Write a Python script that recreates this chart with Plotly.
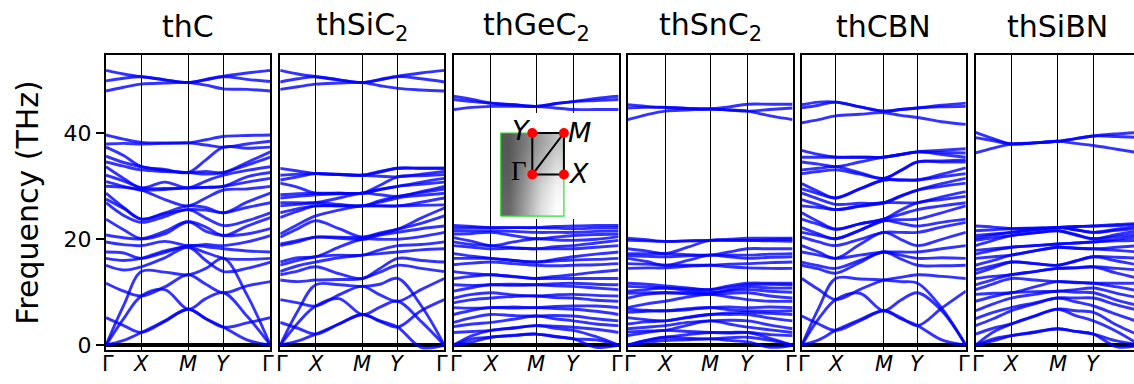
import plotly.graph_objects as go

W, H = 1134, 384

TITLES = ["thC", "thSiC<sub>2</sub>", "thGeC<sub>2</sub>", "thSnC<sub>2</sub>", "thCBN", "thSiBN"]
# fraction of the k-path at which X lies (Gamma-X length); M is at 0.5, Y at 0.5+a
GX_FRACTION = [0.215, 0.216, 0.226, 0.228, 0.206, 0.217]
KLABELS = ["Γ", "<i>X</i>", "<i>M</i>", "<i>Y</i>", "Γ"]
YTICKS = [0, 20, 40]

# band values at: Γ, Γ-X, X, X-M, M, M-Y, Y, Y-Γ, Γ   (THz)
THC = [
    [0, 0.9, 2.4, 4.6, 6.8, 5.0, 3.4, 1.0, 0],
    [0, 5.0, 9.3, 10.5, 6.8, 8.8, 9.9, 5.5, 0],
    [0, 7.5, 13.9, 13.8, 13.3, 14.5, 16.4, 9.5, 0],
    [5.2, 3.7, 2.4, 4.5, 6.8, 5.0, 3.4, 4.2, 5.2],
    [11.7, 10.2, 9.3, 11.0, 13.3, 11.5, 9.9, 11.2, 12.0],
    [15.1, 14.2, 14.8, 16.5, 18.5, 16.0, 13.9, 14.5, 15.7],
    [16.4, 16.0, 16.4, 17.8, 18.5, 17.5, 16.4, 16.2, 16.4],
    [17.6, 17.4, 16.4, 17.5, 18.8, 18.6, 18.2, 17.8, 17.6],
    [19.5, 19.0, 18.8, 19.6, 18.8, 19.0, 18.8, 19.5, 20.7],
    [20.8, 20.3, 20.1, 21.5, 23.3, 21.5, 20.7, 21.0, 22.0],
    [23.8, 21.8, 20.1, 21.0, 23.3, 22.3, 20.7, 22.5, 24.1],
    [26.9, 24.5, 23.2, 24.3, 25.6, 24.0, 22.6, 23.5, 25.0],
    [27.6, 25.8, 23.8, 24.8, 25.6, 25.5, 25.0, 26.0, 26.9],
    [28.7, 26.0, 23.8, 25.0, 26.3, 26.0, 25.0, 27.0, 28.7],
    [30.0, 29.8, 29.3, 27.5, 26.3, 27.8, 29.3, 29.5, 30.0],
    [30.9, 30.0, 29.3, 29.4, 29.7, 29.8, 30.0, 30.8, 31.5],
    [32.1, 31.0, 29.7, 29.6, 29.7, 29.8, 30.0, 31.8, 32.6],
    [33.7, 31.5, 29.7, 30.8, 29.7, 31.0, 32.1, 33.0, 33.7],
    [34.6, 33.8, 33.1, 32.8, 32.6, 32.3, 32.6, 34.0, 35.5],
    [35.7, 34.5, 33.7, 33.0, 32.6, 32.8, 32.6, 34.5, 36.5],
    [37.4, 35.8, 33.7, 33.2, 32.6, 35.0, 37.4, 37.2, 37.4],
    [38.0, 38.1, 38.0, 38.1, 38.2, 37.8, 37.4, 38.0, 38.5],
    [39.7, 38.9, 38.3, 38.2, 38.2, 38.8, 39.4, 39.6, 39.7],
    [48.0, 48.7, 49.3, 49.5, 49.6, 49.1, 48.4, 48.3, 48.0],
    [49.9, 50.4, 50.7, 50.1, 49.6, 50.1, 50.7, 50.2, 49.8],
    [51.9, 51.2, 50.7, 50.1, 49.6, 50.2, 50.8, 51.4, 51.9],
]

THSIC2 = [
    [0, 0.8, 2.1, 4.0, 5.8, 4.6, 3.4, -0.4, 0],
    [0, 4.2, 7.4, 8.8, 5.8, 7.2, 8.3, 4.5, 0],
    [0, 6.5, 11.4, 11.4, 11.1, 11.5, 12.6, 7.5, 0],
    [4.3, 3.2, 2.1, 4.0, 5.8, 4.5, 3.4, 6.5, 8.6],
    [8.6, 8.0, 7.4, 9.5, 11.1, 9.5, 8.3, 10.5, 12.6],
    [12.3, 12.0, 12.3, 12.4, 12.6, 13.8, 15.1, 14.5, 13.9],
    [13.3, 14.0, 14.8, 13.5, 12.6, 14.5, 16.4, 16.0, 15.7],
    [13.9, 15.0, 15.7, 16.5, 17.0, 17.3, 17.6, 18.0, 18.2],
    [15.1, 16.0, 16.7, 17.0, 17.0, 18.0, 18.8, 19.0, 19.5],
    [15.7, 16.5, 16.7, 18.5, 20.0, 20.0, 20.0, 20.5, 21.3],
    [18.8, 19.5, 20.4, 20.2, 20.0, 20.8, 21.3, 22.0, 22.5],
    [19.1, 19.8, 20.4, 20.4, 20.4, 21.2, 21.9, 23.0, 24.4],
    [20.4, 22.0, 23.5, 22.0, 20.4, 21.0, 21.9, 24.0, 25.9],
    [21.0, 22.8, 24.4, 25.5, 26.3, 26.3, 26.3, 26.4, 26.5],
    [24.1, 25.3, 26.3, 26.3, 26.3, 26.3, 26.3, 27.0, 27.8],
    [25.0, 25.8, 26.3, 26.3, 26.3, 27.0, 27.8, 28.3, 28.7],
    [26.3, 26.6, 26.9, 26.6, 26.3, 27.3, 28.1, 28.8, 29.5],
    [26.9, 26.9, 26.9, 27.8, 28.7, 28.4, 28.1, 29.0, 30.0],
    [27.8, 28.1, 28.4, 28.6, 28.7, 29.4, 30.0, 30.4, 30.8],
    [28.4, 28.6, 28.7, 28.7, 28.7, 29.4, 30.0, 30.8, 31.5],
    [30.6, 29.8, 28.7, 28.7, 28.7, 30.2, 31.8, 32.0, 32.2],
    [31.2, 31.8, 32.4, 32.2, 32.1, 31.9, 31.8, 32.3, 32.8],
    [32.1, 32.3, 32.4, 32.3, 32.1, 32.7, 33.4, 33.4, 33.4],
    [33.4, 32.9, 32.4, 32.2, 32.1, 32.8, 33.4, 33.4, 33.4],
    [48.3, 48.8, 49.3, 49.5, 49.6, 49.0, 48.5, 48.2, 48.0],
    [49.7, 50.3, 50.7, 50.1, 49.6, 50.1, 50.7, 50.3, 49.7],
    [51.9, 51.2, 50.7, 50.1, 49.6, 50.2, 50.8, 51.4, 51.9],
]

THGEC2 = [
    [0, 0.6, 1.5, 1.8, 2.1, 1.6, 1.2, -0.4, 0],
    [0, 1.2, 1.5, 1.9, 2.1, 1.7, 1.2, 1.0, 0],
    [0, 1.8, 2.8, 3.2, 3.7, 3.2, 2.8, 1.6, 0],
    [2.4, 2.6, 2.8, 3.3, 3.7, 3.6, 3.4, 3.0, 2.4],
    [3.5, 4.0, 4.3, 4.9, 5.5, 5.0, 4.6, 4.0, 3.7],
    [4.3, 5.2, 5.8, 5.6, 5.5, 5.6, 5.5, 5.0, 4.6],
    [5.8, 6.6, 7.1, 7.0, 7.1, 6.9, 6.8, 6.4, 5.8],
    [7.1, 7.0, 7.1, 7.2, 7.1, 7.3, 7.4, 7.4, 7.1],
    [8.0, 8.6, 8.9, 9.2, 9.3, 9.0, 8.9, 8.5, 8.3],
    [8.9, 9.6, 9.9, 9.5, 9.3, 9.5, 9.6, 9.4, 9.3],
    [10.2, 10.9, 11.4, 11.5, 11.4, 11.2, 11.1, 10.8, 10.5],
    [11.4, 11.3, 11.4, 11.3, 11.4, 11.6, 11.7, 11.5, 11.4],
    [12.6, 13.0, 13.3, 12.9, 12.6, 12.6, 12.6, 12.6, 12.6],
    [13.9, 13.5, 13.3, 13.0, 12.6, 13.0, 13.3, 13.8, 14.2],
    [15.2, 15.5, 15.7, 15.4, 15.1, 15.0, 15.1, 15.2, 15.4],
    [16.4, 16.4, 16.4, 16.0, 15.7, 15.9, 16.1, 16.2, 16.4],
    [17.3, 16.8, 16.4, 16.0, 15.7, 16.2, 16.7, 17.2, 17.6],
    [18.8, 18.5, 18.2, 18.3, 18.2, 18.2, 18.2, 18.5, 18.8],
    [19.5, 19.0, 18.8, 18.4, 18.2, 18.6, 18.8, 19.3, 19.8],
    [20.3, 19.6, 18.8, 19.5, 20.1, 19.9, 19.8, 20.0, 20.5],
    [21.0, 21.1, 21.3, 20.7, 20.1, 20.4, 20.7, 20.9, 21.0],
    [21.6, 21.6, 21.6, 21.5, 21.3, 21.3, 21.3, 21.5, 21.6],
    [22.1, 22.2, 22.2, 22.2, 22.2, 22.1, 22.0, 22.1, 22.2],
    [22.6, 22.4, 22.2, 22.2, 22.2, 22.4, 22.5, 22.6, 22.6],
    [44.5, 44.9, 45.1, 45.1, 45.1, 44.8, 44.5, 44.5, 44.5],
    [46.4, 46.0, 45.7, 45.4, 45.1, 45.6, 46.0, 46.2, 46.4],
    [47.0, 46.4, 45.7, 45.4, 45.1, 45.6, 46.0, 46.6, 47.0],
]

THSNC2 = [
    [0, 0.5, 0.9, 1.0, 1.2, 0.9, 0.6, -0.4, 0],
    [0, 0.9, 1.5, 1.3, 1.2, 1.4, 1.5, 0.9, 0],
    [0, 0.9, 1.5, 2.0, 2.4, 2.4, 2.4, 1.3, 0],
    [1.8, 2.4, 2.8, 2.6, 2.4, 2.3, 2.4, 2.0, 1.8],
    [2.5, 2.7, 2.8, 3.8, 4.6, 4.0, 3.4, 2.9, 2.4],
    [3.1, 3.4, 3.7, 4.3, 4.6, 4.7, 4.6, 3.8, 3.1],
    [4.0, 4.4, 4.6, 5.3, 5.8, 5.8, 5.8, 5.1, 4.6],
    [5.2, 4.8, 4.6, 5.2, 5.8, 6.1, 6.2, 6.0, 5.8],
    [6.2, 6.4, 6.5, 6.9, 7.1, 6.7, 6.5, 6.4, 6.5],
    [6.8, 6.6, 6.5, 6.7, 7.1, 7.2, 7.1, 7.2, 7.1],
    [7.1, 7.8, 8.3, 9.1, 9.6, 9.1, 8.6, 8.3, 8.3],
    [8.9, 9.6, 9.9, 9.7, 9.6, 9.8, 9.9, 9.3, 8.9],
    [9.8, 9.9, 9.9, 9.9, 9.9, 10.3, 10.5, 10.2, 10.0],
    [10.2, 10.5, 10.8, 10.3, 9.9, 10.4, 11.0, 10.8, 10.8],
    [11.1, 11.0, 10.8, 10.6, 10.5, 10.9, 11.4, 11.5, 11.4],
    [11.7, 11.5, 11.2, 10.8, 10.5, 11.2, 11.7, 11.7, 11.7],
    [14.5, 14.6, 14.6, 14.9, 15.1, 14.8, 14.6, 14.5, 14.5],
    [15.4, 15.3, 15.1, 15.1, 15.1, 15.3, 15.4, 15.6, 15.7],
    [16.4, 15.8, 15.1, 16.0, 17.0, 16.7, 16.4, 16.6, 16.7],
    [16.9, 16.8, 16.7, 16.9, 17.0, 17.0, 17.0, 17.2, 17.3],
    [17.3, 17.3, 17.3, 17.1, 17.0, 17.6, 18.2, 18.2, 18.2],
    [18.2, 17.8, 17.3, 18.5, 19.8, 19.8, 19.8, 19.7, 19.6],
    [19.8, 19.7, 19.6, 19.7, 19.8, 19.8, 19.8, 19.9, 20.0],
    [20.2, 19.9, 19.6, 19.7, 19.8, 20.0, 20.2, 20.2, 20.2],
    [42.6, 43.5, 44.2, 44.4, 44.6, 44.4, 44.2, 43.3, 42.6],
    [44.8, 44.9, 44.9, 44.7, 44.6, 44.4, 44.2, 44.5, 44.8],
    [45.4, 45.1, 44.9, 44.7, 44.6, 45.0, 45.5, 45.5, 45.5],
]

THCBN = [
    [0, 1.0, 2.8, 4.8, 6.5, 5.0, 3.7, 1.0, 0],
    [0, 5.0, 8.6, 9.8, 6.5, 8.5, 9.9, 6.5, 0],
    [0, 7.0, 12.6, 12.5, 12.3, 12.0, 11.7, 7.0, 0],
    [5.5, 4.0, 2.8, 4.6, 6.5, 5.2, 3.7, 7.0, 10.2],
    [12.6, 10.5, 8.6, 10.5, 12.3, 12.8, 13.3, 13.0, 12.6],
    [15.1, 14.4, 13.6, 15.6, 17.6, 16.3, 15.1, 15.0, 15.1],
    [15.7, 15.0, 14.5, 16.0, 17.6, 17.0, 16.4, 16.5, 16.4],
    [17.6, 17.0, 16.4, 17.0, 17.6, 17.6, 17.6, 18.2, 18.8],
    [18.8, 17.6, 16.4, 19.0, 21.3, 20.0, 18.8, 20.0, 21.3],
    [20.4, 19.5, 18.8, 20.0, 21.3, 21.3, 21.3, 22.3, 23.2],
    [21.3, 20.7, 20.1, 21.7, 23.5, 23.0, 22.5, 23.2, 23.8],
    [22.2, 21.0, 20.1, 21.7, 23.5, 23.7, 23.8, 25.0, 26.3],
    [23.8, 22.8, 21.9, 22.9, 23.8, 24.7, 25.6, 26.3, 26.9],
    [25.0, 23.3, 21.9, 22.9, 23.8, 25.5, 26.9, 27.5, 28.1],
    [26.3, 26.0, 25.6, 26.3, 26.9, 26.9, 26.9, 28.0, 29.0],
    [27.5, 26.5, 25.6, 26.2, 26.9, 28.1, 29.3, 30.0, 30.6],
    [28.7, 27.6, 26.6, 26.8, 26.9, 28.2, 29.3, 30.5, 31.5],
    [29.5, 28.6, 27.8, 29.5, 31.2, 31.2, 31.2, 31.8, 32.4],
    [30.5, 29.0, 27.8, 29.5, 31.2, 31.2, 31.2, 32.3, 33.5],
    [32.4, 32.8, 33.1, 32.3, 31.5, 33.0, 34.6, 34.6, 34.6],
    [33.1, 33.4, 33.7, 32.6, 31.5, 33.0, 34.6, 34.8, 35.0],
    [34.6, 34.2, 33.7, 34.6, 35.5, 36.0, 36.5, 36.0, 35.5],
    [35.5, 35.5, 35.5, 35.5, 35.5, 36.0, 36.5, 36.4, 36.3],
    [36.8, 36.0, 35.5, 35.5, 35.5, 36.0, 36.5, 36.8, 37.1],
    [42.0, 42.6, 43.3, 43.6, 43.9, 43.4, 43.0, 42.2, 41.7],
    [44.8, 45.3, 45.9, 45.0, 44.2, 44.5, 44.8, 45.0, 45.1],
    [45.4, 45.9, 45.9, 45.0, 44.2, 44.5, 44.8, 45.3, 45.7],
]

THSIBN = [
    [0, 0.8, 1.8, 2.5, 3.1, 2.6, 2.1, -0.3, 0],
    [0, 1.2, 1.8, 2.4, 3.1, 2.6, 2.1, 0.8, 0],
    [0, 2.5, 4.0, 5.5, 6.8, 5.6, 4.6, 2.6, 0],
    [2.1, 3.2, 4.0, 5.5, 6.8, 6.5, 6.2, 3.8, 1.8],
    [3.7, 5.0, 6.5, 7.8, 8.9, 8.2, 7.4, 5.8, 4.3],
    [5.0, 6.2, 7.1, 8.0, 8.9, 8.9, 8.9, 7.6, 6.5],
    [6.5, 7.8, 8.9, 9.6, 10.2, 10.0, 9.9, 8.5, 7.4],
    [8.3, 9.2, 9.9, 10.1, 10.2, 10.5, 10.8, 9.8, 8.9],
    [9.6, 9.8, 9.9, 11.0, 12.0, 11.8, 11.7, 11.0, 10.2],
    [10.5, 11.6, 12.6, 12.3, 12.0, 11.9, 11.7, 11.7, 11.7],
    [11.4, 12.4, 13.3, 13.9, 14.5, 14.6, 14.8, 13.6, 12.6],
    [12.6, 13.0, 13.3, 13.9, 14.5, 14.6, 14.8, 14.5, 14.2],
    [13.5, 14.6, 15.7, 15.4, 15.1, 15.9, 16.7, 15.9, 15.1],
    [14.2, 15.0, 15.7, 15.4, 15.1, 15.9, 16.7, 16.6, 16.4],
    [15.1, 16.0, 17.0, 17.8, 18.5, 18.3, 18.2, 17.9, 17.6],
    [16.4, 16.7, 17.0, 17.8, 18.5, 18.3, 18.2, 18.5, 18.8],
    [17.2, 17.9, 18.5, 18.8, 19.1, 19.3, 19.5, 19.7, 19.8],
    [17.9, 18.2, 18.5, 18.8, 19.1, 19.3, 19.5, 20.0, 20.5],
    [18.8, 19.8, 20.7, 21.2, 21.6, 20.8, 20.1, 20.5, 21.0],
    [19.8, 20.3, 20.7, 21.2, 21.6, 20.9, 20.1, 20.9, 21.6],
    [20.2, 20.8, 21.3, 21.8, 22.2, 21.8, 21.3, 21.7, 22.0],
    [20.7, 21.0, 21.3, 21.8, 22.2, 21.8, 21.3, 21.9, 22.5],
    [21.6, 21.8, 22.0, 22.1, 22.2, 22.4, 22.5, 22.6, 22.8],
    [22.5, 22.3, 22.0, 22.1, 22.2, 22.4, 22.5, 22.8, 23.0],
    [36.3, 37.2, 38.0, 38.2, 38.5, 38.1, 37.7, 37.0, 36.3],
    [39.2, 38.6, 38.0, 38.2, 38.5, 39.0, 39.5, 39.4, 39.2],
    [40.2, 39.0, 38.0, 38.2, 38.5, 39.0, 39.5, 39.9, 40.2],
]

PANELS = [THC, THSIC2, THGEC2, THSNC2, THCBN, THSIBN]

# ---------------- layout geometry (pixels) ----------------
PANEL_LEFT = [106.0, 280.2, 453.6, 627.6, 801.8, 975.5]
PANEL_RIGHT = [270.4, 444.4, 618.6, 792.6, 965.8, 1140.0]
TOP_PX, BOT_PX = 56.0, 357.0
KLABEL_Y_PX = 371.0
Y_RANGE = [-1.0, 54.8]
BAND_COLOR = "rgba(0,0,255,0.8)"
FONT = "DejaVu Sans"


def px_x(p):
    return p / W


def px_y(p):
    return 1 - p / H


fig = go.Figure()

for i, bands in enumerate(PANELS):
    s = "" if i == 0 else str(i + 1)
    a = GX_FRACTION[i]
    kt = [0.0, a, 0.5, 0.5 + a, 1.0]
    ks = []
    for j in range(4):
        ks += [kt[j], (kt[j] + kt[j + 1]) / 2]
    ks.append(kt[4])
    xs, ys = [], []
    for row in bands:
        xs += ks + [None]
        ys += list(row) + [None]
    fig.add_trace(go.Scatter(
        x=xs, y=ys, mode="lines", xaxis="x" + s, yaxis="y" + s,
        line=dict(color=BAND_COLOR, width=2.9, shape="spline", smoothing=1.0),
        hoverinfo="skip", showlegend=False))

    left, right = PANEL_LEFT[i], PANEL_RIGHT[i]
    vis_right = min(right, W)
    xmax = (vis_right - left) / (right - left)
    fig.layout["xaxis" + s] = dict(
        domain=[px_x(left), px_x(vis_right)], range=[0, xmax], anchor="y" + s,
        tickvals=kt, showticklabels=False, ticks="", showgrid=True,
        gridcolor="black", gridwidth=1.3, zeroline=False,
        showline=True, linecolor="black", linewidth=2, mirror=True)
    fig.layout["yaxis" + s] = dict(
        domain=[px_y(BOT_PX), px_y(TOP_PX)], range=Y_RANGE, anchor="x" + s,
        showgrid=False, zeroline=True, zerolinecolor="black", zerolinewidth=3.5,
        showline=True, linecolor="black", linewidth=2,
        mirror=(i < len(PANELS) - 1),
        tickvals=YTICKS, showticklabels=(i == 0),
        ticks="outside" if i == 0 else "", ticklen=8, tickwidth=1.5,
        tickcolor="black", tickfont=dict(size=22, color="black", family=FONT))

    # high-symmetry point labels under the panel (end labels nudged apart at the joins)
    for j, (kv, lab) in enumerate(zip(kt, KLABELS)):
        if kv > xmax:
            continue
        shift = 2 if j == 0 else (-2 if j == 4 else 0)
        fig.add_annotation(
            text=lab, xref="x" + s, yref="paper", x=kv, y=px_y(KLABEL_Y_PX),
            xshift=shift, xanchor="center", yanchor="middle", showarrow=False,
            font=dict(size=21, color="black", family=FONT))

    fig.add_annotation(
        text=TITLES[i], xref="paper", yref="paper",
        x=px_x((left + right) / 2), y=px_y(27), xanchor="center", yanchor="middle",
        showarrow=False, font=dict(size=30, color="black", family=FONT))

fig.add_annotation(
    text="Frequency (THz)", xref="paper", yref="paper", x=px_x(28), y=px_y(206.5),
    textangle=-90, xanchor="center", yanchor="middle", showarrow=False,
    font=dict(size=30, color="black", family=FONT))

# ---------------- Brillouin-zone inset (in thGeC2 panel) ----------------
BZ_A, BZ_B = 1.0, 1.34           # half widths of the zone
BOX_PX = [495.0, 590.0, 115.0, 223.0]   # inset box: left, right, top, bottom
GAMMA_PX = (532.3, 177.8)
UNIT_PX = 31.6
ix_range = [(BOX_PX[0] - GAMMA_PX[0]) / UNIT_PX, (BOX_PX[1] - GAMMA_PX[0]) / UNIT_PX]
iy_range = [(GAMMA_PX[1] - BOX_PX[3]) / UNIT_PX, (GAMMA_PX[1] - BOX_PX[2]) / UNIT_PX]
fig.layout["xaxis7"] = dict(domain=[px_x(BOX_PX[0]), px_x(BOX_PX[1])], range=ix_range,
                            anchor="y7", visible=False)
fig.layout["yaxis7"] = dict(domain=[px_y(BOX_PX[3]), px_y(BOX_PX[2])], range=iy_range,
                            anchor="x7", visible=False)

# white backing of the inset (covers the high-symmetry lines behind it)
fig.add_trace(go.Heatmap(
    z=[[0, 0], [0, 0]], x=list(ix_range), y=list(iy_range),
    colorscale=[[0, "white"], [1, "white"]], zmin=0, zmax=1, showscale=False,
    xaxis="x7", yaxis="y7", hoverinfo="skip"))

SHADE = [
    [0.16, 0.48, 0.82, 0.99],
    [0.12, 0.42, 0.74, 0.93],
    [0.09, 0.34, 0.60, 0.80],
    [0.07, 0.27, 0.48, 0.66],
]
fig.add_trace(go.Heatmap(
    z=SHADE, x=[-0.75 * BZ_A, -0.25 * BZ_A, 0.25 * BZ_A, 0.75 * BZ_A],
    y=[-0.75 * BZ_B, -0.25 * BZ_B, 0.25 * BZ_B, 0.75 * BZ_B],
    colorscale=[[0, "#4a4a4a"], [1, "#ffffff"]], zmin=0, zmax=1, zsmooth="best",
    showscale=False, xaxis="x7", yaxis="y7", hoverinfo="skip"))
fig.add_trace(go.Scatter(
    x=[-BZ_A, BZ_A, BZ_A, -BZ_A, -BZ_A], y=[-BZ_B, -BZ_B, BZ_B, BZ_B, -BZ_B],
    mode="lines", line=dict(color="#33dd33", width=1.2),
    xaxis="x7", yaxis="y7", hoverinfo="skip", showlegend=False))
BZ_PTS = {"G": (0, 0), "X": (BZ_A, 0), "M": (BZ_A, BZ_B), "Y": (0, BZ_B)}
path = ["G", "X", "M", "Y", "G", "M"]
fig.add_trace(go.Scatter(
    x=[BZ_PTS[p][0] for p in path], y=[BZ_PTS[p][1] for p in path],
    mode="lines", line=dict(color="black", width=2),
    xaxis="x7", yaxis="y7", hoverinfo="skip", showlegend=False))
fig.add_trace(go.Scatter(
    x=[BZ_PTS[p][0] for p in "GXMY"], y=[BZ_PTS[p][1] for p in "GXMY"],
    mode="markers", marker=dict(color="red", size=10),
    xaxis="x7", yaxis="y7", hoverinfo="skip", showlegend=False))
for key, text, dx, dy, fam in [("Y", "<i>Y</i>", -11, 2, FONT), ("M", "<i>M</i>", 16, 0, FONT),
                               ("G", "Γ", -13, 4, "Liberation Serif"), ("X", "<i>X</i>", 15, 1, FONT)]:
    fig.add_annotation(text=text, xref="x7", yref="y7", x=BZ_PTS[key][0], y=BZ_PTS[key][1],
                       xshift=dx, yshift=dy, showarrow=False, xanchor="center", yanchor="middle",
                       font=dict(size=27, color="black", family=fam))

fig.update_layout(width=W, height=H, autosize=False, margin=dict(l=0, r=0, t=0, b=0),
                  paper_bgcolor="white", plot_bgcolor="white",
                  font=dict(family=FONT, color="black"))
fig.write_html("out.html")
